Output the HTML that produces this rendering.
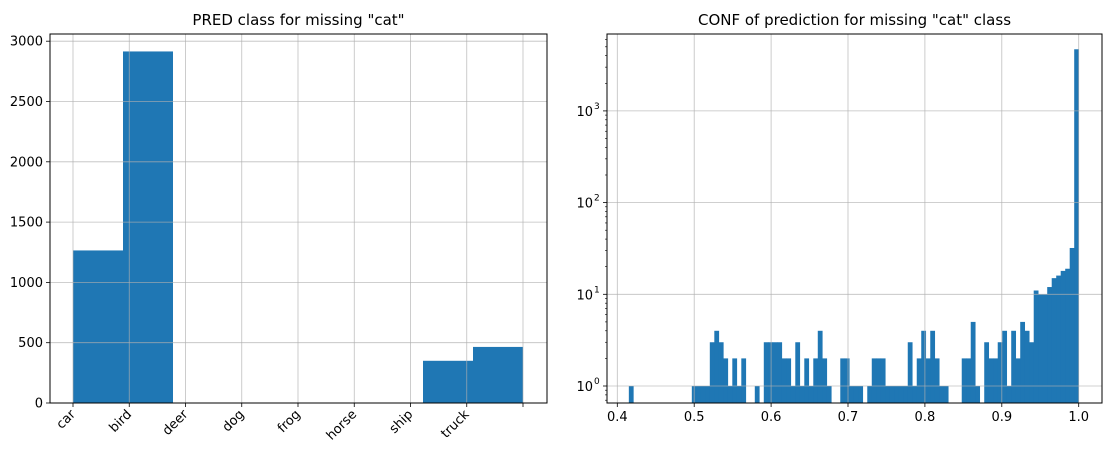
<!DOCTYPE html>
<html><head><meta charset="utf-8"><style>
body{margin:0;background:#fff;}
svg text{font-family:"DejaVu Sans","Liberation Sans",sans-serif;fill:#000;}
</style></head><body>
<svg id="c" width="1115" height="459" viewBox="0 0 1115 459" xmlns="http://www.w3.org/2000/svg"></svg>
<script>
const leftCategories=["car","bird","deer","dog","frog","horse","ship","truck"];
const leftCounts=[1265,2915,0,0,0,0,0,350,465];
const leftYTicks=[0,500,1000,1500,2000,2500,3000];
const rightXTicks=[0.4,0.5,0.6,0.7,0.8,0.9,1.0];
const rightYTicks=[0,1,2,3];
const confMin=0.415, confMax=1.0;
const confCounts=[1,0,0,0,0,0,0,0,0,0,0,0,0,0,1,1,1,1,3,4,3,2,1,2,1,2,0,0,1,0,3,3,3,3,2,2,1,3,1,2,1,2,4,2,1,0,0,2,2,1,1,1,0,1,2,2,2,1,1,1,1,1,3,1,2,4,2,4,2,1,1,0,0,0,2,2,5,1,0,3,2,2,3,4,1,4,2,5,4,3,11,10,10,12,15,16,18,19,32,4700];

const NS="http://www.w3.org/2000/svg";
const svg=document.getElementById('c');
function mk(tag,attrs,parent){const e=document.createElementNS(NS,tag);for(const k in attrs)e.setAttribute(k,attrs[k]);(parent||svg).appendChild(e);return e;}
const BLUE="#1f77b4",GRID="#b0b0b0";

// LEFT
const L={x0:50,x1:547,y0:34,y1:403};
const lx=v=>73+v*56.25;
const ly=v=>403-v*(361.8/3000);
const lg=mk('g',{});

const nb=leftCounts.length, bw=8/nb;
leftCounts.forEach((c,i)=>{
  if(c<=0)return;
  const r=mk('rect',{x:lx(i*bw),y:ly(c),width:lx((i+1)*bw)-lx(i*bw),height:ly(0)-ly(c),fill:BLUE},lg);
  
  
});
for(let i=0;i<=8;i++){
  const X=lx(i);
  mk('line',{x1:X,x2:X,y1:L.y0,y2:L.y1,stroke:GRID,'stroke-width':0.8,opacity:0.8},lg);
  mk('line',{x1:X,x2:X,y1:L.y1,y2:L.y1+4,stroke:'#000','stroke-width':0.8},lg);
  if(i<leftCategories.length){
    const t=mk('text',{x:X+3,y:L.y1+12,'font-size':13,'text-anchor':'end',transform:`rotate(-45 ${X+3} ${L.y1+12})`},lg);
    t.textContent=leftCategories[i];
    
    
  }
}
leftYTicks.forEach(v=>{
  const Y=ly(v);
  mk('line',{x1:L.x0,x2:L.x1,y1:Y,y2:Y,stroke:GRID,'stroke-width':0.8,opacity:0.8},lg);
  mk('line',{x1:L.x0-4,x2:L.x0,y1:Y,y2:Y,stroke:'#000','stroke-width':0.8},lg);
  const t=mk('text',{x:L.x0-7,y:Y+4.5,'font-size':13,'text-anchor':'end'},lg);
  t.textContent=v;
  
  
});
mk('rect',{x:L.x0,y:L.y0,width:L.x1-L.x0,height:L.y1-L.y0,fill:'none',stroke:'#000','stroke-width':1},lg);
const lt=mk('text',{x:(L.x0+L.x1)/2,y:25,'font-size':15,'text-anchor':'middle'},lg);
lt.textContent='PRED class for missing "cat"';



// RIGHT
const R={x0:607,x1:1102,y0:34,y1:403};
const rx=v=>617.3+(v-0.4)*769;
const ry=v=>386-Math.log10(v)*91.7;
const rg=mk('g',{});

const cw=(confMax-confMin)/confCounts.length;
confCounts.forEach((c,i)=>{
  if(c<=0)return;
  const a=rx(confMin+i*cw),b=rx(confMin+(i+1)*cw);
  const r=mk('rect',{x:a,y:ry(c),width:b-a+0.3,height:R.y1-ry(c),fill:BLUE},rg);
  
  
});
rightXTicks.forEach(v=>{
  const X=rx(v);
  mk('line',{x1:X,x2:X,y1:R.y0,y2:R.y1,stroke:GRID,'stroke-width':0.8,opacity:0.8},rg);
  mk('line',{x1:X,x2:X,y1:R.y1,y2:R.y1+4,stroke:'#000','stroke-width':0.8},rg);
  const t=mk('text',{x:X,y:R.y1+18,'font-size':13,'text-anchor':'middle'},rg);
  t.textContent=v.toFixed(1);
  
  
});
for(let d=-1;d<=3;d++)for(let m=2;m<=9;m++){
  const Y=ry(m*Math.pow(10,d));
  if(Y<R.y0||Y>R.y1)continue;
  mk('line',{x1:R.x0-2,x2:R.x0,y1:Y,y2:Y,stroke:'#000','stroke-width':0.6},rg);
}
rightYTicks.forEach(e=>{
  const Y=ry(Math.pow(10,e));
  mk('line',{x1:R.x0,x2:R.x1,y1:Y,y2:Y,stroke:GRID,'stroke-width':0.8,opacity:0.8},rg);
  mk('line',{x1:R.x0-4,x2:R.x0,y1:Y,y2:Y,stroke:'#000','stroke-width':0.8},rg);
  const t=mk('text',{x:R.x0-14,y:Y+5,'font-size':13,'text-anchor':'end'},rg);
  t.textContent='10';
  
  
  const s=mk('text',{x:R.x0-13,y:Y-2,'font-size':9,'text-anchor':'start'},rg);
  s.textContent=e;
  
  
});
mk('rect',{x:R.x0,y:R.y0,width:R.x1-R.x0,height:R.y1-R.y0,fill:'none',stroke:'#000','stroke-width':1},rg);
const rt=mk('text',{x:(R.x0+R.x1)/2,y:25,'font-size':15,'text-anchor':'middle'},rg);
rt.textContent='CONF of prediction for missing "cat" class';


</script>
</body></html>
